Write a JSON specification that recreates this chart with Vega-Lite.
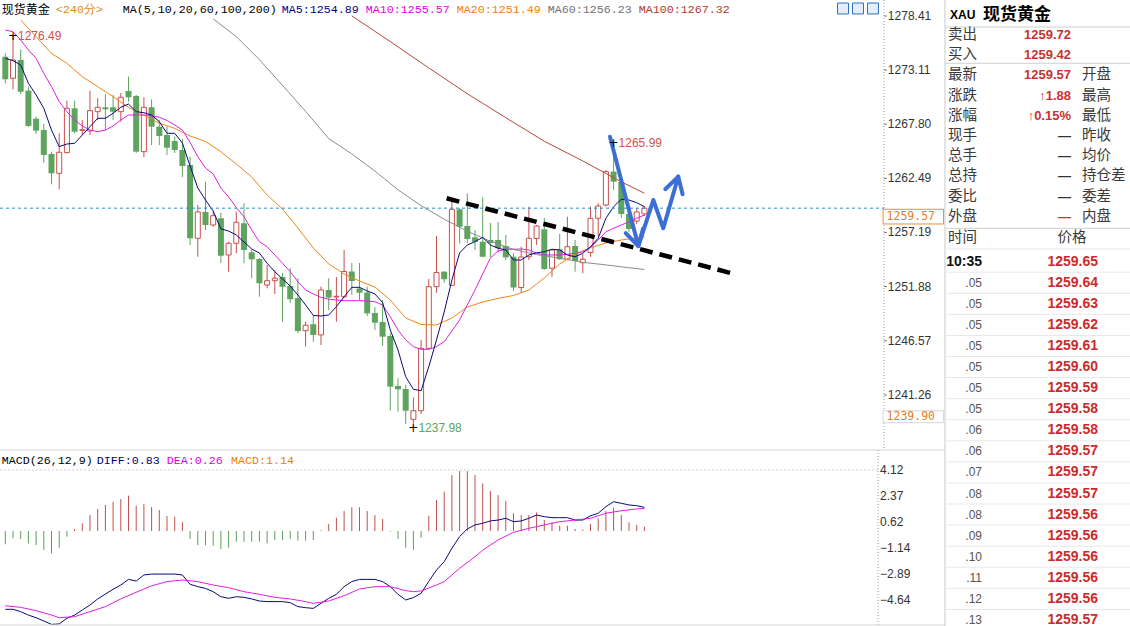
{
"$schema":"https://vega.github.io/schema/vega-lite/v6.json",
"width":1130,"height":626,"autosize":{"type":"none"},"padding":0,"background":"#ffffff",
"config":{"view":{"stroke":null},"font":"Liberation Sans"},
"datasets":{
"k":[
{"i":0,"o":1274.42,"h":1274.75,"l":1271.81,"c":1272.20},{"i":1,"o":1272.30,"h":1276.49,"l":1271.22,"c":1274.10},{"i":2,"o":1274.10,"h":1275.15,"l":1270.76,"c":1270.99},{"i":3,"o":1271.09,"h":1271.50,"l":1267.53,"c":1267.63},{"i":4,"o":1268.34,"h":1268.54,"l":1266.84,"c":1267.17},{"i":5,"o":1267.23,"h":1267.82,"l":1264.03,"c":1264.78},{"i":6,"o":1264.88,"h":1265.11,"l":1261.91,"c":1262.99},{"i":7,"o":1262.99,"h":1266.91,"l":1261.42,"c":1265.05},{"i":8,"o":1265.01,"h":1270.11,"l":1264.95,"c":1269.36},{"i":9,"o":1269.36,"h":1270.11,"l":1266.90,"c":1267.07},
{"i":10,"o":1267.20,"h":1268.21,"l":1266.74,"c":1267.26},{"i":11,"o":1267.14,"h":1271.09,"l":1266.74,"c":1269.13},{"i":12,"o":1269.03,"h":1270.37,"l":1268.21,"c":1269.46},{"i":13,"o":1269.46,"h":1270.76,"l":1267.23,"c":1269.26},{"i":14,"o":1269.46,"h":1270.67,"l":1268.21,"c":1269.03},{"i":15,"o":1269.03,"h":1270.86,"l":1268.05,"c":1270.44},{"i":16,"o":1271.06,"h":1272.46,"l":1270.01,"c":1270.44},{"i":17,"o":1270.57,"h":1270.67,"l":1265.00,"c":1265.11},{"i":18,"o":1265.11,"h":1270.44,"l":1264.56,"c":1269.46},{"i":19,"o":1269.46,"h":1270.24,"l":1265.76,"c":1267.56},
{"i":20,"o":1267.56,"h":1268.21,"l":1265.76,"c":1266.65},{"i":21,"o":1266.74,"h":1267.56,"l":1264.78,"c":1265.50},{"i":22,"o":1266.16,"h":1266.58,"l":1264.98,"c":1265.27},{"i":23,"o":1265.27,"h":1266.35,"l":1262.63,"c":1263.70},{"i":24,"o":1263.80,"h":1264.62,"l":1255.96,"c":1256.62},{"i":25,"o":1256.62,"h":1259.88,"l":1254.81,"c":1259.20},{"i":26,"o":1259.20,"h":1262.17,"l":1257.43,"c":1257.92},{"i":27,"o":1257.92,"h":1259.22,"l":1257.75,"c":1258.83},{"i":28,"o":1258.58,"h":1259.13,"l":1254.20,"c":1254.91},{"i":29,"o":1254.98,"h":1256.28,"l":1253.34,"c":1256.13},
{"i":30,"o":1256.13,"h":1259.22,"l":1255.15,"c":1258.19},{"i":31,"o":1258.09,"h":1260.05,"l":1254.17,"c":1255.47},{"i":32,"o":1255.24,"h":1255.47,"l":1252.70,"c":1254.56},{"i":33,"o":1254.59,"h":1254.65,"l":1250.89,"c":1252.20},{"i":34,"o":1252.04,"h":1254.00,"l":1251.71,"c":1252.46},{"i":35,"o":1252.46,"h":1253.51,"l":1251.16,"c":1252.70},{"i":36,"o":1252.82,"h":1253.21,"l":1248.44,"c":1251.87},{"i":37,"o":1251.94,"h":1253.70,"l":1250.27,"c":1250.64},{"i":38,"o":1250.76,"h":1252.72,"l":1247.33,"c":1247.53},{"i":39,"o":1247.56,"h":1248.44,"l":1245.99,"c":1248.09},
{"i":40,"o":1248.19,"h":1249.10,"l":1246.48,"c":1247.14},{"i":41,"o":1247.14,"h":1251.87,"l":1246.16,"c":1251.55},{"i":42,"o":1251.55,"h":1252.70,"l":1249.59,"c":1250.81},{"i":43,"o":1250.86,"h":1252.82,"l":1248.44,"c":1250.93},{"i":44,"o":1250.89,"h":1255.47,"l":1250.73,"c":1253.36},{"i":45,"o":1253.36,"h":1254.20,"l":1251.06,"c":1252.43},{"i":46,"o":1251.70,"h":1254.20,"l":1250.57,"c":1251.28},{"i":47,"o":1251.30,"h":1251.87,"l":1249.00,"c":1249.26},{"i":48,"o":1249.29,"h":1249.88,"l":1247.63,"c":1248.34},{"i":49,"o":1248.41,"h":1250.57,"l":1246.06,"c":1246.97},
{"i":50,"o":1247.04,"h":1247.30,"l":1239.71,"c":1242.07},{"i":51,"o":1242.14,"h":1242.89,"l":1239.62,"c":1241.81},{"i":52,"o":1241.84,"h":1242.23,"l":1238.41,"c":1239.71},{"i":53,"o":1238.87,"h":1241.03,"l":1237.98,"c":1239.71},{"i":54,"o":1239.71,"h":1246.65,"l":1239.39,"c":1245.83},{"i":55,"o":1245.83,"h":1252.63,"l":1245.76,"c":1251.87},{"i":56,"o":1251.87,"h":1256.84,"l":1251.28,"c":1253.26},{"i":57,"o":1253.34,"h":1253.41,"l":1252.26,"c":1252.60},{"i":58,"o":1252.01,"h":1260.44,"l":1251.94,"c":1259.46},{"i":59,"o":1259.46,"h":1259.56,"l":1256.13,"c":1257.75},
{"i":60,"o":1257.82,"h":1261.03,"l":1256.13,"c":1256.55},{"i":61,"o":1256.71,"h":1257.43,"l":1255.47,"c":1256.28},{"i":62,"o":1256.28,"h":1260.64,"l":1254.75,"c":1254.81},{"i":63,"o":1256.45,"h":1258.12,"l":1254.78,"c":1256.16},{"i":64,"o":1256.45,"h":1258.21,"l":1255.27,"c":1255.64},{"i":65,"o":1255.86,"h":1256.94,"l":1254.49,"c":1254.75},{"i":66,"o":1254.81,"h":1255.15,"l":1251.45,"c":1251.79},{"i":67,"o":1251.79,"h":1255.79,"l":1251.30,"c":1254.78},{"i":68,"o":1254.81,"h":1259.71,"l":1254.49,"c":1256.62},{"i":69,"o":1256.60,"h":1257.92,"l":1255.96,"c":1257.82},
{"i":70,"o":1257.50,"h":1258.61,"l":1253.51,"c":1253.61},{"i":71,"o":1253.68,"h":1255.47,"l":1252.85,"c":1255.47},{"i":72,"o":1255.54,"h":1257.04,"l":1254.49,"c":1254.56},{"i":73,"o":1254.56,"h":1258.73,"l":1254.49,"c":1255.79},{"i":74,"o":1255.86,"h":1256.45,"l":1253.34,"c":1254.39},{"i":75,"o":1254.22,"h":1255.08,"l":1253.19,"c":1254.56},{"i":76,"o":1255.22,"h":1259.71,"l":1254.81,"c":1258.58},{"i":77,"o":1258.58,"h":1260.05,"l":1256.77,"c":1259.78},{"i":78,"o":1259.88,"h":1263.31,"l":1259.71,"c":1263.15},{"i":79,"o":1263.15,"h":1265.99,"l":1261.35,"c":1262.17},
{"i":80,"o":1262.14,"h":1262.33,"l":1258.61,"c":1259.00},{"i":81,"o":1259.00,"h":1259.39,"l":1257.23,"c":1257.53},{"i":82,"o":1258.31,"h":1259.59,"l":1258.02,"c":1259.20},{"i":83,"o":1259.00,"h":1259.78,"l":1258.80,"c":1259.57}
],
"ma510":[
{"i":0,"ma5":1274.26,"ma10":1277.04},{"i":1,"ma5":1274.03,"ma10":1276.87},{"i":2,"ma5":1273.61,"ma10":1276.06},{"i":3,"ma5":1271.81,"ma10":1275.08},{"i":4,"ma5":1270.67,"ma10":1274.26},{"i":5,"ma5":1269.36,"ma10":1272.79},{"i":6,"ma5":1267.23,"ma10":1271.48},{"i":7,"ma5":1265.60,"ma10":1270.01},{"i":8,"ma5":1265.86,"ma10":1269.03},{"i":9,"ma5":1265.93,"ma10":1268.21},
{"i":10,"ma5":1266.74,"ma10":1267.63},{"i":11,"ma5":1267.56,"ma10":1267.23},{"i":12,"ma5":1268.38,"ma10":1267.07},{"i":13,"ma5":1268.38,"ma10":1267.23},{"i":14,"ma5":1268.87,"ma10":1267.63},{"i":15,"ma5":1269.46,"ma10":1268.21},{"i":16,"ma5":1269.78,"ma10":1268.70},{"i":17,"ma5":1269.03,"ma10":1268.70},{"i":18,"ma5":1268.93,"ma10":1268.70},{"i":19,"ma5":1268.70,"ma10":1268.64},
{"i":20,"ma5":1268.05,"ma10":1268.48},{"i":21,"ma5":1266.91,"ma10":1268.17},{"i":22,"ma5":1266.91,"ma10":1267.72},{"i":23,"ma5":1265.96,"ma10":1267.23},{"i":24,"ma5":1263.70,"ma10":1266.01},{"i":25,"ma5":1261.55,"ma10":1264.62},{"i":26,"ma5":1260.37,"ma10":1263.51},{"i":27,"ma5":1259.29,"ma10":1262.92},{"i":28,"ma5":1257.53,"ma10":1261.55},{"i":29,"ma5":1257.33,"ma10":1260.67},
{"i":30,"ma5":1256.94,"ma10":1259.64},{"i":31,"ma5":1256.25,"ma10":1258.73},{"i":32,"ma5":1255.57,"ma10":1257.43},{"i":33,"ma5":1255.18,"ma10":1256.28},{"i":34,"ma5":1254.17,"ma10":1255.79},{"i":35,"ma5":1253.34,"ma10":1254.98},{"i":36,"ma5":1252.63,"ma10":1254.17},{"i":37,"ma5":1251.94,"ma10":1253.34},{"i":38,"ma5":1251.06,"ma10":1252.36},{"i":39,"ma5":1250.08,"ma10":1251.55},
{"i":40,"ma5":1249.05,"ma10":1251.16},{"i":41,"ma5":1249.00,"ma10":1250.83},{"i":42,"ma5":1249.10,"ma10":1250.64},{"i":43,"ma5":1249.91,"ma10":1250.57},{"i":44,"ma5":1250.89,"ma10":1250.50},{"i":45,"ma5":1251.81,"ma10":1250.50},{"i":46,"ma5":1251.81,"ma10":1250.50},{"i":47,"ma5":1251.45,"ma10":1250.47},{"i":48,"ma5":1251.16,"ma10":1250.40},{"i":49,"ma5":1250.32,"ma10":1250.08},
{"i":50,"ma5":1247.63,"ma10":1248.93},{"i":51,"ma5":1245.67,"ma10":1247.63},{"i":52,"ma5":1243.05,"ma10":1246.65},{"i":53,"ma5":1241.81,"ma10":1245.99},{"i":54,"ma5":1241.68,"ma10":1245.73},{"i":55,"ma5":1244.03,"ma10":1245.73},{"i":56,"ma5":1246.65,"ma10":1245.99},{"i":57,"ma5":1249.39,"ma10":1246.48},{"i":58,"ma5":1252.53,"ma10":1247.53},{"i":59,"ma5":1255.18,"ma10":1248.61},
{"i":60,"ma5":1255.96,"ma10":1250.08},{"i":61,"ma5":1256.28,"ma10":1251.55},{"i":62,"ma5":1256.71,"ma10":1253.12},{"i":63,"ma5":1255.96,"ma10":1254.69},{"i":64,"ma5":1255.64,"ma10":1255.37},{"i":65,"ma5":1255.47,"ma10":1255.54},{"i":66,"ma5":1254.49,"ma10":1255.54},{"i":67,"ma5":1254.49,"ma10":1255.57},{"i":68,"ma5":1254.98,"ma10":1255.47},{"i":69,"ma5":1255.20,"ma10":1255.15},
{"i":70,"ma5":1255.30,"ma10":1254.98},{"i":71,"ma5":1255.54,"ma10":1254.98},{"i":72,"ma5":1255.47,"ma10":1254.98},{"i":73,"ma5":1254.98,"ma10":1255.05},{"i":74,"ma5":1254.81,"ma10":1255.15},{"i":75,"ma5":1255.15,"ma10":1255.30},{"i":76,"ma5":1255.79,"ma10":1255.73},{"i":77,"ma5":1256.62,"ma10":1256.45},{"i":78,"ma5":1258.58,"ma10":1257.26},{"i":79,"ma5":1259.71,"ma10":1257.60},
{"i":80,"ma5":1260.44,"ma10":1257.92},{"i":81,"ma5":1260.37,"ma10":1258.24},{"i":82,"ma5":1260.11,"ma10":1258.58},{"i":83,"ma5":1259.71,"ma10":1258.90}
],
"ma20":[{"i":2,"v":1278.02},{"i":4,"v":1276.38},{"i":6,"v":1274.75},{"i":8,"v":1273.77},{"i":10,"v":1272.46},{"i":12,"v":1271.48},{"i":14,"v":1270.50},{"i":16,"v":1269.46},{"i":18,"v":1268.70},{"i":20,"v":1267.89},{"i":22,"v":1267.40},{"i":24,"v":1266.65},{"i":26,"v":1266.11},{"i":28,"v":1265.11},{"i":30,"v":1263.90},{"i":32,"v":1262.63},{"i":34,"v":1260.86},{"i":36,"v":1259.49},{"i":38,"v":1257.63},{"i":40,"v":1255.67},{"i":42,"v":1254.10},{"i":44,"v":1253.12},{"i":46,"v":1252.43},{"i":48,"v":1251.84},{"i":50,"v":1250.57},{"i":52,"v":1248.80},{"i":54,"v":1248.17},{"i":56,"v":1248.12},{"i":58,"v":1248.80},{"i":60,"v":1249.88},{"i":62,"v":1250.37},{"i":64,"v":1250.73},{"i":66,"v":1251.01},{"i":68,"v":1251.55},{"i":70,"v":1252.72},{"i":72,"v":1254.10},{"i":74,"v":1255.08},{"i":76,"v":1255.67},{"i":78,"v":1256.16},{"i":80,"v":1256.45},{"i":83,"v":1256.74}],
"ma60":[{"i":27,"v":1278.12},{"i":30,"v":1276.39},{"i":33,"v":1274.13},{"i":36,"v":1271.61},{"i":39,"v":1269.06},{"i":42,"v":1266.40},{"i":45,"v":1264.89},{"i":48,"v":1263.21},{"i":51,"v":1261.37},{"i":54,"v":1259.82},{"i":57,"v":1258.49},{"i":60,"v":1257.30},{"i":63,"v":1256.33},{"i":66,"v":1255.53},{"i":69,"v":1255.02},{"i":72,"v":1254.67},{"i":75,"v":1254.26},{"i":78,"v":1254.01},{"i":81,"v":1253.73},{"i":83,"v":1253.56}],
"ma100":[{"i":45,"v":1278.42},{"i":50,"v":1275.90},{"i":55,"v":1273.32},{"i":60,"v":1270.79},{"i":65,"v":1268.44},{"i":70,"v":1266.13},{"i":75,"v":1264.20},{"i":80,"v":1262.15},{"i":83,"v":1261.04}],
"trend":[{"i":57.32,"p":1260.54},{"i":94.34,"p":1253.19}],
"arrow":[
{"seg":"path","ord":0,"i":78.53,"p":1266.58},{"seg":"path","ord":1,"i":82.21,"p":1255.86},{"seg":"path","ord":2,"i":84.16,"p":1260.37},{"seg":"path","ord":3,"i":85.45,"p":1257.60},{"seg":"path","ord":4,"i":87.40,"p":1262.66},
{"seg":"head1","ord":0,"i":80.57,"p":1257.12},{"seg":"head1","ord":1,"i":82.21,"p":1255.86},{"seg":"head1","ord":2,"i":82.83,"p":1257.57},
{"seg":"head2","ord":0,"i":85.71,"p":1261.43},{"seg":"head2","ord":1,"i":87.40,"p":1262.66},{"seg":"head2","ord":2,"i":87.96,"p":1260.94}
],
"ext":[{"i":1,"p":1276.49,"label":"1276.49"},{"i":79,"p":1265.99,"label":"1265.99"},{"i":53,"p":1237.98,"label":"1237.98"}],
"yt":[{"v":1278.41},{"v":1273.11},{"v":1267.80},{"v":1262.49},{"v":1257.19},{"v":1251.88},{"v":1246.57},{"v":1241.26}],
"mt":[{"v":4.12},{"v":2.37},{"v":0.62},{"v":-1.14},{"v":-2.89},{"v":-4.64}],
"macd":[
{"i":0,"h":-0.90,"diff":-5.29},{"i":1,"h":-0.49,"diff":-5.29},{"i":2,"h":-0.54,"diff":-5.45},{"i":3,"h":-0.83,"diff":-5.68},{"i":4,"h":-0.95,"diff":-5.86},{"i":5,"h":-1.28,"diff":-6.08},{"i":6,"h":-1.51,"diff":-6.31},{"i":7,"h":-1.13,"diff":-6.28},{"i":8,"h":-0.38,"diff":-5.90},{"i":9,"h":0.14,"diff":-5.68},
{"i":10,"h":0.52,"diff":-5.34},{"i":11,"h":1.08,"diff":-5.00},{"i":12,"h":1.49,"diff":-4.59},{"i":13,"h":1.76,"diff":-4.26},{"i":14,"h":1.98,"diff":-3.94},{"i":15,"h":2.16,"diff":-3.65},{"i":16,"h":2.39,"diff":-3.27},{"i":17,"h":1.71,"diff":-3.38},{"i":18,"h":1.82,"diff":-2.97},{"i":19,"h":1.62,"diff":-2.91},
{"i":20,"h":1.42,"diff":-2.91},{"i":21,"h":1.01,"diff":-2.91},{"i":22,"h":0.97,"diff":-2.91},{"i":23,"h":0.59,"diff":-2.97},{"i":24,"h":-0.54,"diff":-3.60},{"i":25,"h":-0.95,"diff":-3.76},{"i":26,"h":-0.95,"diff":-3.88},{"i":27,"h":-0.99,"diff":-4.10},{"i":28,"h":-1.22,"diff":-4.44},{"i":29,"h":-1.13,"diff":-4.55},
{"i":30,"h":-0.72,"diff":-4.44},{"i":31,"h":-0.72,"diff":-4.48},{"i":32,"h":-0.72,"diff":-4.59},{"i":33,"h":-0.72,"diff":-4.73},{"i":34,"h":-0.83,"diff":-4.77},{"i":35,"h":-0.61,"diff":-4.77},{"i":36,"h":-0.61,"diff":-4.77},{"i":37,"h":-0.54,"diff":-4.84},{"i":38,"h":-0.65,"diff":-5.11},{"i":39,"h":-0.65,"diff":-5.18},
{"i":40,"h":-0.61,"diff":-5.23},{"i":41,"h":0.05,"diff":-4.89},{"i":42,"h":0.47,"diff":-4.55},{"i":43,"h":0.90,"diff":-4.28},{"i":44,"h":1.35,"diff":-3.76},{"i":45,"h":1.60,"diff":-3.42},{"i":46,"h":1.60,"diff":-3.27},{"i":47,"h":1.35,"diff":-3.27},{"i":48,"h":1.08,"diff":-3.27},{"i":49,"h":0.81,"diff":-3.42},
{"i":50,"h":-0.05,"diff":-3.76},{"i":51,"h":-0.54,"diff":-4.28},{"i":52,"h":-1.13,"diff":-4.66},{"i":53,"h":-1.28,"diff":-4.50},{"i":54,"h":-0.45,"diff":-4.21},{"i":55,"h":1.03,"diff":-3.40},{"i":56,"h":2.09,"diff":-2.64},{"i":57,"h":2.66,"diff":-2.07},{"i":58,"h":3.78,"diff":-1.17},{"i":59,"h":4.05,"diff":-0.38},
{"i":60,"h":4.05,"diff":0.14},{"i":61,"h":3.78,"diff":0.41},{"i":62,"h":3.22,"diff":0.52},{"i":63,"h":2.70,"diff":0.68},{"i":64,"h":2.43,"diff":0.74},{"i":65,"h":2.03,"diff":0.86},{"i":66,"h":1.20,"diff":0.63},{"i":67,"h":1.08,"diff":0.68},{"i":68,"h":1.08,"diff":0.86},{"i":69,"h":1.26,"diff":1.08},
{"i":70,"h":0.74,"diff":0.97},{"i":71,"h":0.59,"diff":0.90},{"i":72,"h":0.36,"diff":0.90},{"i":73,"h":0.36,"diff":0.90},{"i":74,"h":0.14,"diff":0.74},{"i":75,"h":0.10,"diff":0.74},{"i":76,"h":0.47,"diff":1.03},{"i":77,"h":0.86,"diff":1.20},{"i":78,"h":1.35,"diff":1.64},{"i":79,"h":1.58,"diff":1.98},
{"i":80,"h":1.08,"diff":1.87},{"i":81,"h":0.59,"diff":1.76},{"i":82,"h":0.41,"diff":1.71},{"i":83,"h":0.29,"diff":1.60}
],
"dea":[{"i":0,"v":-5.05},{"i":2,"v":-5.16},{"i":4,"v":-5.38},{"i":6,"v":-5.68},{"i":7,"v":-5.86},{"i":9,"v":-5.79},{"i":11,"v":-5.45},{"i":13,"v":-5.11},{"i":15,"v":-4.59},{"i":17,"v":-4.14},{"i":19,"v":-3.70},{"i":21,"v":-3.42},{"i":23,"v":-3.31},{"i":25,"v":-3.42},{"i":27,"v":-3.65},{"i":29,"v":-3.83},{"i":31,"v":-4.10},{"i":33,"v":-4.28},{"i":35,"v":-4.48},{"i":37,"v":-4.59},{"i":39,"v":-4.77},{"i":40,"v":-4.89},{"i":42,"v":-4.73},{"i":44,"v":-4.37},{"i":46,"v":-3.92},{"i":48,"v":-3.76},{"i":50,"v":-3.76},{"i":52,"v":-4.03},{"i":53,"v":-4.10},{"i":54,"v":-4.05},{"i":56,"v":-3.65},{"i":57,"v":-3.42},{"i":59,"v":-2.52},{"i":61,"v":-1.74},{"i":62,"v":-1.30},{"i":64,"v":-0.60},{"i":66,"v":-0.09},{"i":68,"v":0.18},{"i":70,"v":0.41},{"i":72,"v":0.63},{"i":74,"v":0.74},{"i":76,"v":0.86},{"i":78,"v":1.20},{"i":80,"v":1.37},{"i":82,"v":1.49},{"i":83,"v":1.53}],
"hdr":[{"seq":0,"t":"现货黄金"},{"seq":1,"t":"<240分>"},{"seq":2,"t":"MA(5,10,20,60,100,200)"},{"seq":3,"t":"MA5:1254.89"},{"seq":4,"t":"MA10:1255.57"},{"seq":5,"t":"MA20:1251.49"},{"seq":6,"t":"MA60:1256.23"},{"seq":7,"t":"MA100:1267.32"}],
"icons":[{"seq":8},{"seq":9},{"seq":10}],
"mhdr":[{"seq":0,"t":"MACD(26,12,9)"},{"seq":1,"t":"DIFF:0.83"},{"seq":2,"t":"DEA:0.26"},{"seq":3,"t":"MACD:1.14"}],
"quote":[{"r":0,"name":"卖出","val":"1259.72","name2":""},{"r":1,"name":"买入","val":"1259.42","name2":""},{"r":2,"name":"最新","val":"1259.57","name2":"开盘"},{"r":3,"name":"涨跌","val":"↑1.88","name2":"最高"},{"r":4,"name":"涨幅","val":"↑0.15%","name2":"最低"},{"r":5,"name":"现手","val":"—","name2":"昨收"},{"r":6,"name":"总手","val":"—","name2":"均价"},{"r":7,"name":"总持","val":"—","name2":"持仓差"},{"r":8,"name":"委比","val":"—","name2":"委差"},{"r":9,"name":"外盘","val":"—","name2":"内盘"}],
"tk":[{"k":0,"t":"10:35","p":"1259.65"},{"k":1,"t":".05","p":"1259.64"},{"k":2,"t":".05","p":"1259.63"},{"k":3,"t":".05","p":"1259.62"},{"k":4,"t":".05","p":"1259.61"},{"k":5,"t":".05","p":"1259.60"},{"k":6,"t":".05","p":"1259.59"},{"k":7,"t":".05","p":"1259.58"},{"k":8,"t":".06","p":"1259.58"},{"k":9,"t":".06","p":"1259.57"},{"k":10,"t":".07","p":"1259.57"},{"k":11,"t":".08","p":"1259.57"},{"k":12,"t":".08","p":"1259.56"},{"k":13,"t":".09","p":"1259.56"},{"k":14,"t":".10","p":"1259.56"},{"k":15,"t":".11","p":"1259.56"},{"k":16,"t":".12","p":"1259.56"},{"k":17,"t":".13","p":"1259.57"}]
},
"layer":[
{"layer":[
 {"data":{"name":"k"},"mark":{"type":"rule","strokeWidth":1},
  "encoding":{"x":{"field":"i","type":"quantitative","scale":{"domain":[-0.688,146.065],"nice":false,"zero":false,"padding":0},"axis":null},
   "y":{"field":"l","type":"quantitative","scale":{"domain":[1235.861,1279.979],"range":[450,0],"nice":false,"zero":false},"axis":null},"y2":{"field":"h"},
   "color":{"condition":{"test":"datum.c>=datum.o","value":"#c8504c"},"value":"#5ea45e"}}},
 {"data":{"name":"k"},"transform":[{"filter":"datum.c>=datum.o"}],"mark":{"type":"bar","size":5,"fill":"#ffffff","stroke":"#c8504c","strokeWidth":1},
  "encoding":{"x":{"field":"i","type":"quantitative"},"y":{"field":"o","type":"quantitative"},"y2":{"field":"c"}}},
 {"data":{"name":"k"},"transform":[{"filter":"datum.c<datum.o"}],"mark":{"type":"bar","size":6,"fill":"#5ea45e"},
  "encoding":{"x":{"field":"i","type":"quantitative"},"y":{"field":"o","type":"quantitative"},"y2":{"field":"c"}}},
 {"data":{"name":"ma100"},"mark":{"type":"line","strokeWidth":1,"color":"#b8473b"},"encoding":{"x":{"field":"i","type":"quantitative"},"y":{"field":"v","type":"quantitative"}}},
 {"data":{"name":"ma60"},"mark":{"type":"line","strokeWidth":1,"color":"#8c8c8c"},"encoding":{"x":{"field":"i","type":"quantitative"},"y":{"field":"v","type":"quantitative"}}},
 {"data":{"name":"ma20"},"mark":{"type":"line","strokeWidth":1,"color":"#f0861a"},"encoding":{"x":{"field":"i","type":"quantitative"},"y":{"field":"v","type":"quantitative"}}},
 {"data":{"name":"ma510"},"mark":{"type":"line","strokeWidth":1,"color":"#e01fe0"},"encoding":{"x":{"field":"i","type":"quantitative"},"y":{"field":"ma10","type":"quantitative"}}},
 {"data":{"name":"ma510"},"mark":{"type":"line","strokeWidth":1,"color":"#0a0a78"},"encoding":{"x":{"field":"i","type":"quantitative"},"y":{"field":"ma5","type":"quantitative"}}},
 {"data":{"values":[{"last":1259.57}]},"mark":{"type":"rule","strokeWidth":1,"strokeDash":[3,3],"color":"#2c8ac4"},
  "encoding":{"x":{"datum":-0.688},"x2":{"datum":114.12},"y":{"field":"last","type":"quantitative"}}},
 {"data":{"name":"trend"},"mark":{"type":"line","strokeWidth":4.5,"strokeDash":[13,7],"color":"#000000"},
  "encoding":{"x":{"field":"i","type":"quantitative"},"y":{"field":"p","type":"quantitative"}}},
 {"data":{"name":"arrow"},"mark":{"type":"line","strokeWidth":4,"color":"#3c6fd5","strokeCap":"round","strokeJoin":"round"},
  "encoding":{"x":{"field":"i","type":"quantitative"},"y":{"field":"p","type":"quantitative"},"detail":{"field":"seg"},"order":{"field":"ord"}}},
 {"data":{"name":"ext"},"mark":{"type":"text","text":"+","fontSize":12,"font":"DejaVu Sans","color":"#000000","align":"center","baseline":"middle"},
  "encoding":{"x":{"field":"i","type":"quantitative"},"y":{"field":"p","type":"quantitative"}}},
 {"data":{"name":"ext"},"mark":{"type":"text","fontSize":12,"align":"left","baseline":"middle","dx":5},
  "encoding":{"x":{"field":"i","type":"quantitative"},"y":{"field":"p","type":"quantitative"},"text":{"field":"label"},
   "color":{"condition":{"test":"datum.p<1240","value":"#5aa55a"},"value":"#d5504a"}}},
 {"data":{"values":[{"a":1}]},"mark":{"type":"rule","strokeWidth":1,"strokeDash":[1,2],"color":"#9a9a9a"},
  "encoding":{"x":{"datum":114.12},"y":{"datum":1279.979},"y2":{"datum":1235.861}}},
 {"data":{"name":"yt"},"mark":{"type":"rule","strokeWidth":1,"color":"#777777"},
  "encoding":{"x":{"datum":114.12},"x2":{"datum":114.5},"y":{"field":"v","type":"quantitative"}}},
 {"data":{"name":"yt"},"mark":{"type":"text","fontSize":12,"align":"left","baseline":"middle","color":"#333333"},
  "encoding":{"x":{"datum":114.62},"y":{"field":"v","type":"quantitative"},"text":{"field":"v","format":".2f"}}},
 {"data":{"values":[{"tag":"1259.57"}]},"mark":{"type":"rect","fill":"#ffffff","stroke":"#e8902a","strokeWidth":1},
  "encoding":{"x":{"datum":114.0},"x2":{"datum":121.85},"y":{"datum":1259.46},"y2":{"datum":1258.02}}},
 {"data":{"values":[{"tag":"1259.57"}]},"mark":{"type":"text","font":"DejaVu Sans Mono","fontSize":11.5,"align":"left","baseline":"middle","color":"#e0801e"},
  "encoding":{"x":{"datum":114.45},"y":{"datum":1258.74},"text":{"field":"tag"}}},
 {"data":{"values":[{"tag":"1239.90"}]},"mark":{"type":"rect","fill":"#ffffff","stroke":"#d8d8d8","strokeWidth":1},
  "encoding":{"x":{"datum":114.0},"x2":{"datum":121.85},"y":{"datum":1239.71},"y2":{"datum":1238.54}}},
 {"data":{"values":[{"tag":"1239.90"}]},"mark":{"type":"text","font":"DejaVu Sans Mono","fontSize":11.5,"align":"left","baseline":"middle","color":"#e0801e"},
  "encoding":{"x":{"datum":114.45},"y":{"datum":1239.12},"text":{"field":"tag"}}},
 {"data":{"values":[{"a":1}]},"mark":{"type":"rule","strokeWidth":1,"color":"#d6d6d6"},
  "encoding":{"x":{"datum":-0.688},"x2":{"datum":122.04},"y":{"datum":1235.861}}}
]},
{"layer":[
 {"data":{"name":"macd"},"mark":{"type":"rule","strokeWidth":1},
  "encoding":{"x":{"field":"i","type":"quantitative","scale":{"domain":[-0.688,146.065],"nice":false,"zero":false,"padding":0},"axis":null},
   "y":{"field":"h","type":"quantitative","scale":{"domain":[-6.419,5.473],"range":[626,450],"nice":false,"zero":false},"axis":null},"y2":{"datum":0},
   "color":{"condition":{"test":"datum.h>=0","value":"#c0504d"},"value":"#5a9e5a"}}},
 {"data":{"name":"macd"},"mark":{"type":"line","strokeWidth":1,"color":"#0a0a78"},"encoding":{"x":{"field":"i","type":"quantitative"},"y":{"field":"diff","type":"quantitative"}}},
 {"data":{"name":"dea"},"mark":{"type":"line","strokeWidth":1,"color":"#e01fe0"},"encoding":{"x":{"field":"i","type":"quantitative"},"y":{"field":"v","type":"quantitative"}}},
 {"data":{"values":[{"a":1}]},"mark":{"type":"rule","strokeWidth":1,"strokeDash":[2,2],"color":"#d0d0d0"},
  "encoding":{"x":{"datum":-0.688},"x2":{"datum":113.34},"y":{"datum":4.12}}},
 {"data":{"values":[{"a":1}]},"mark":{"type":"rule","strokeWidth":1,"strokeDash":[1,2],"color":"#9a9a9a"},
  "encoding":{"x":{"datum":113.34},"y":{"datum":5.473},"y2":{"datum":-6.419}}},
 {"data":{"name":"mt"},"mark":{"type":"text","fontSize":12,"align":"left","baseline":"middle","color":"#333333"},
  "encoding":{"x":{"datum":113.6},"y":{"field":"v","type":"quantitative"},"text":{"field":"v","format":".2f"}}},
 {"data":{"values":[{"a":1}]},"mark":{"type":"rule","strokeWidth":1,"color":"#d6d6d6"},
  "encoding":{"x":{"datum":-0.688},"x2":{"datum":122.04},"y":{"datum":-6.351}}}
]},
{"layer":[
 {"data":{"name":"hdr"},"transform":[{"filter":"datum.seq==0"}],"mark":{"type":"text","font":"Noto Sans CJK SC","fontSize":12,"align":"left","baseline":"middle","color":"#000000","dy":1.5},
  "encoding":{"x":{"field":"seq","type":"quantitative","scale":{"type":"linear","domain":[0,1,2,3,4,5,6,7,8,9,10],"range":[1.7,56,122.8,281.7,365.7,456.7,547.7,638.7,843,858,873],"nice":false,"zero":false},"axis":null},
   "y":{"datum":0,"scale":{"domain":[0,1],"range":[8.5,20],"nice":false,"zero":false},"axis":null},"text":{"field":"t"}}},
 {"data":{"name":"hdr"},"transform":[{"filter":"datum.seq>0"}],"mark":{"type":"text","font":"Liberation Mono","fontSize":11.67,"align":"left","baseline":"middle"},
  "encoding":{"x":{"field":"seq","type":"quantitative"},"y":{"datum":0},"text":{"field":"t"},
   "color":{"field":"seq","type":"ordinal","scale":{"domain":[1,2,3,4,5,6,7],"range":["#e08a1e","#000000","#00007f","#e000e0","#f08000","#707070","#b2382c"]},"legend":null}}},
 {"data":{"name":"icons"},"mark":{"type":"point","shape":"square","size":120,"filled":true,"fill":"#e4eefb","stroke":"#2f6fc0","strokeWidth":1,"opacity":1},
  "encoding":{"x":{"field":"seq","type":"quantitative"},"y":{"datum":0}}}
]},
{"layer":[
 {"data":{"name":"mhdr"},"mark":{"type":"text","font":"Liberation Mono","fontSize":11.67,"align":"left","baseline":"middle"},
  "encoding":{"x":{"field":"seq","type":"quantitative","scale":{"type":"linear","domain":[0,1,2,3],"range":[1.7,96.7,166.7,231],"nice":false,"zero":false},"axis":null},
   "y":{"datum":0,"scale":{"domain":[0,1],"range":[460,470],"nice":false,"zero":false},"axis":null},"text":{"field":"t"},
   "color":{"field":"seq","type":"ordinal","scale":{"domain":[0,1,2,3],"range":["#000000","#00007f","#e000e0","#f08000"]},"legend":null}}}
]},
{"layer":[
 {"data":{"values":[{"a":1}]},"mark":{"type":"rule","strokeWidth":1,"color":"#c8c8c8"},
  "encoding":{"x":{"datum":-0.0244,"scale":{"type":"linear","domain":[0,1,2],"range":[948,1071,1082],"nice":false,"zero":false},"axis":null},
   "y":{"datum":-1.733,"scale":{"domain":[0,9],"range":[35,216.8],"nice":false,"zero":false},"axis":null},"y2":{"datum":29.26}}},
 {"data":{"values":[{"sep":-0.396},{"sep":1.40},{"sep":9.57}]},"mark":{"type":"rule","strokeWidth":1,"color":"#cfcfcf"},
  "encoding":{"x":{"datum":-0.0244},"x2":{"datum":6.364},"y":{"field":"sep","type":"quantitative"}}},
 {"data":{"values":[{"t":"XAU"}]},"mark":{"type":"text","font":"Liberation Sans","fontWeight":"bold","fontSize":12,"align":"left","baseline":"middle","color":"#000000"},
  "encoding":{"x":{"datum":0.016},"y":{"datum":-0.98},"text":{"field":"t"}}},
 {"data":{"values":[{"t":"现货黄金"}]},"mark":{"type":"text","font":"Noto Sans CJK SC","fontWeight":"bold","fontSize":17,"align":"left","baseline":"middle","color":"#000000"},
  "encoding":{"x":{"datum":0.285},"y":{"datum":-0.98},"text":{"field":"t"}}},
 {"data":{"name":"quote"},"mark":{"type":"text","font":"Noto Sans CJK SC","fontSize":14.5,"align":"left","baseline":"middle","color":"#3a3a3a"},
  "encoding":{"x":{"datum":0},"y":{"field":"r","type":"quantitative"},"text":{"field":"name"}}},
 {"data":{"name":"quote"},"mark":{"type":"text","font":"Liberation Sans","fontWeight":"bold","fontSize":13,"align":"right","baseline":"middle"},
  "encoding":{"x":{"datum":1},"y":{"field":"r","type":"quantitative"},"text":{"field":"val"},
   "color":{"condition":{"test":"datum.val=='—' && datum.name!='外盘'","value":"#333333"},"value":"#c83232"}}},
 {"data":{"name":"quote"},"mark":{"type":"text","font":"Noto Sans CJK SC","fontSize":14.5,"align":"left","baseline":"middle","color":"#3a3a3a"},
  "encoding":{"x":{"datum":2},"y":{"field":"r","type":"quantitative"},"text":{"field":"name2"}}}
]},
{"layer":[
 {"data":{"name":"tk"},"transform":[{"filter":"datum.k<17"}],"mark":{"type":"rule","strokeWidth":1,"color":"#e8e8e8","yOffset":10.5},
  "encoding":{"x":{"datum":-0.319,"scale":{"domain":[0,1],"range":[982,1098],"nice":false,"zero":false},"axis":null},"x2":{"datum":1.276},
   "y":{"field":"k","type":"quantitative","scale":{"domain":[0,17],"range":[261.7,620],"nice":false,"zero":false},"axis":null}}},
 {"data":{"values":[{"sep":-0.603}]},"mark":{"type":"rule","strokeWidth":1,"color":"#e8e8e8"},
  "encoding":{"x":{"datum":-0.319},"x2":{"datum":1.276},"y":{"field":"sep","type":"quantitative"}}},
 {"data":{"values":[{"t":"时间"}]},"mark":{"type":"text","font":"Noto Sans CJK SC","fontSize":14.5,"align":"left","baseline":"middle","color":"#3a3a3a"},
  "encoding":{"x":{"datum":-0.293},"y":{"datum":-1.125},"text":{"field":"t"}}},
 {"data":{"values":[{"t":"价格"}]},"mark":{"type":"text","font":"Noto Sans CJK SC","fontSize":14.5,"align":"center","baseline":"middle","color":"#3a3a3a"},
  "encoding":{"x":{"datum":0.776},"y":{"datum":-1.125},"text":{"field":"t"}}},
 {"data":{"name":"tk"},"transform":[{"filter":"datum.k==0"}],"mark":{"type":"text","font":"Liberation Sans","fontWeight":"bold","fontSize":14,"align":"right","baseline":"middle","color":"#111111"},
  "encoding":{"x":{"datum":0},"y":{"field":"k","type":"quantitative"},"text":{"field":"t"}}},
 {"data":{"name":"tk"},"transform":[{"filter":"datum.k>0"}],"mark":{"type":"text","font":"Liberation Sans","fontSize":12,"align":"right","baseline":"middle","color":"#555555"},
  "encoding":{"x":{"datum":0},"y":{"field":"k","type":"quantitative"},"text":{"field":"t"}}},
 {"data":{"name":"tk"},"mark":{"type":"text","font":"Liberation Sans","fontWeight":"bold","fontSize":14,"align":"right","baseline":"middle","color":"#cc2b2b"},
  "encoding":{"x":{"datum":1},"y":{"field":"k","type":"quantitative"},"text":{"field":"p"}}}
]}
],
"resolve":{"scale":{"x":"independent","y":"independent","color":"independent"}}
}
